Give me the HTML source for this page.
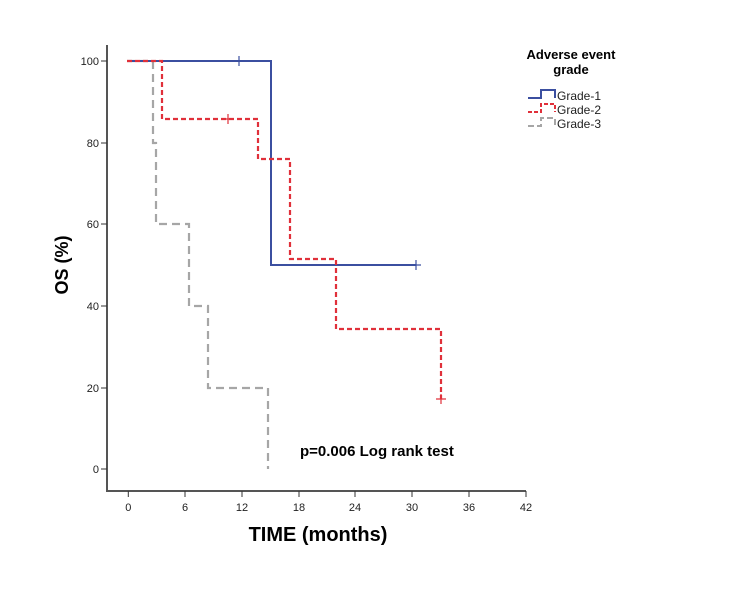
<!DOCTYPE html>
<html><head><style>body{margin:0;background:#fff}svg{display:block}</style></head><body>
<svg width="737" height="604" xmlns="http://www.w3.org/2000/svg" font-family="Liberation Sans, Arial, sans-serif">
<rect width="737" height="604" fill="#fff"/>
<!-- axes -->
<path d="M107,45 V491 H526" fill="none" stroke="#555" stroke-width="2"/>
<g stroke="#333" stroke-width="1">
<line x1="101" y1="61" x2="107" y2="61"/><line x1="101" y1="143" x2="107" y2="143"/>
<line x1="101" y1="224" x2="107" y2="224"/><line x1="101" y1="306" x2="107" y2="306"/>
<line x1="101" y1="388" x2="107" y2="388"/><line x1="101" y1="469" x2="107" y2="469"/>
<line x1="128.3" y1="491" x2="128.3" y2="497"/><line x1="185" y1="491" x2="185" y2="497"/>
<line x1="242" y1="491" x2="242" y2="497"/><line x1="299" y1="491" x2="299" y2="497"/>
<line x1="355" y1="491" x2="355" y2="497"/><line x1="412" y1="491" x2="412" y2="497"/>
<line x1="469" y1="491" x2="469" y2="497"/><line x1="526" y1="491" x2="526" y2="497"/>
</g>
<g font-size="11" fill="#222" text-anchor="end">
<text x="99" y="65">100</text><text x="99" y="147">80</text><text x="99" y="228">60</text>
<text x="99" y="310">40</text><text x="99" y="392">20</text><text x="99" y="473">0</text>
</g>
<g font-size="11" fill="#222" text-anchor="middle">
<text x="128.3" y="511">0</text><text x="185" y="511">6</text><text x="242" y="511">12</text>
<text x="299" y="511">18</text><text x="355" y="511">24</text><text x="412" y="511">30</text>
<text x="469" y="511">36</text><text x="526" y="511">42</text>
</g>
<text x="318" y="541" font-size="20" font-weight="bold" text-anchor="middle">TIME (months)</text>
<text transform="translate(68,265) rotate(-90)" font-size="18" font-weight="bold" text-anchor="middle">OS (%)</text>
<text x="300" y="456" font-size="15" font-weight="bold">p=0.006 Log rank test</text>
<!-- curves -->
<path d="M127,61 H153 V143 H156 V224 H189 V306 H208 V388 H268 V469" fill="none" stroke="#a6a6a6" stroke-width="2.2" stroke-dasharray="8,5"/>
<path d="M127,61 H271 V265 H416" fill="none" stroke="#3b4fa0" stroke-width="2"/>
<path d="M127,61 H162 V119 H258 V159 H290 V259 H336 V329 H441 V399" fill="none" stroke="#e0303a" stroke-width="2.2" stroke-dasharray="5,3"/>
<g stroke-width="1.2">
<path d="M239,56 V66 M234,61 H244" stroke="#3b4fa0"/>
<path d="M416,260 V270 M411,265 H421" stroke="#3b4fa0"/>
<path d="M228,114 V124 M223,119 H233" stroke="#e0303a"/>
<path d="M441,394 V404 M436,399 H446" stroke="#e0303a"/>
</g>
<!-- legend -->
<text x="571" y="59" font-size="13" font-weight="bold" text-anchor="middle">Adverse event</text>
<text x="571" y="74" font-size="13" font-weight="bold" text-anchor="middle">grade</text>
<path d="M528,98 H541 V90 H555 V98" fill="none" stroke="#3b4fa0" stroke-width="2"/>
<path d="M528,112 H541 V104 H555 V112" fill="none" stroke="#e0303a" stroke-width="2" stroke-dasharray="4,2"/>
<path d="M528,126 H541 V118 H555 V126" fill="none" stroke="#a6a6a6" stroke-width="2" stroke-dasharray="6,3"/>
<g font-size="12" fill="#222">
<text x="557" y="100">Grade-1</text><text x="557" y="114">Grade-2</text><text x="557" y="128">Grade-3</text>
</g>
</svg>
</body></html>
